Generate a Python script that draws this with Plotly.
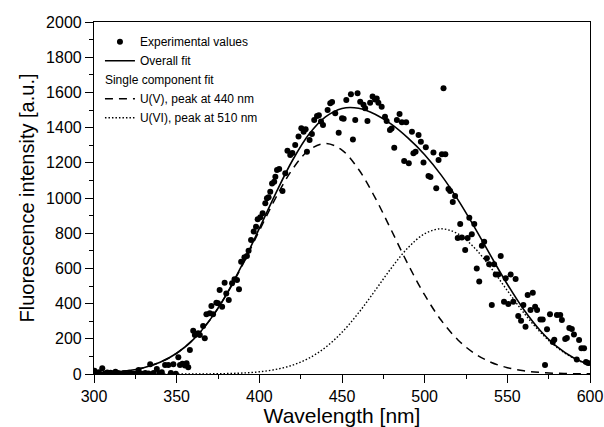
import plotly.graph_objects as go

# Experimental values (wavelength nm, intensity a.u.)
exp_wl = [300.3, 301.5, 303, 305, 306.5, 308, 310, 311.5, 313, 314.5, 316, 318, 320, 322, 324, 326, 327, 329,
          331, 333, 334, 336, 338, 339.5, 341, 343, 345, 346.5, 348, 349.5, 351, 352, 353.5, 355, 356, 357,
          358, 360, 361, 363, 364, 366, 367, 368, 370, 371, 372, 374, 375, 376, 377.5, 379, 380, 381.5, 383.5,
          385, 386.5, 387.7, 389, 391, 392.5, 393.5, 395, 396.6, 398, 399, 400.6, 402, 403.6, 404.6, 405.6,
          406.6, 407.7, 409, 409.7, 410.7, 412, 414, 415.7, 417, 418.7, 420, 421.7, 423.7, 425.4, 426.8, 428,
          428.8, 430.4, 431.8, 433.2, 434.9, 436, 437.3, 438.5, 441.3, 442.9, 444, 445.9, 448, 450, 451, 452.6,
          455.4, 456.6, 458, 459.4, 461, 463, 464, 465.4, 467, 468.5, 470, 471, 472, 474, 476, 477, 479, 480,
          481.6, 483.2, 484.8, 486.2, 487.6, 488.8, 490.4, 492.3, 493.2, 494.5, 496.3, 497.7, 499.3, 500.7,
          502.3, 503.5, 505.3, 507, 508.4, 510.4, 511.4, 512.5, 514.4, 515.4, 517, 518.4, 520, 521.5, 522.5,
          524.5, 526, 527, 528.5, 530, 531.5, 533, 534.6, 536, 537.6, 539, 540.6, 542, 543, 544.5, 546, 548,
          549, 550.6, 552, 553.6, 555, 556.6, 558.3, 559.7, 561, 562.3, 564, 565.4, 566.8, 568, 570, 571.4,
          572.8, 574, 575.8, 577.5, 578.4, 580, 582, 583, 585, 586, 587.5, 589, 590.3, 592, 593.4, 594.8,
          596.4, 597.6, 598.8]
exp_int = [19, 5, 10, 32, 3, 8, 7, 4, 13, 6, 2, 4, 0, 6, 2, 4, 23, 2,
           5, 3, 55, 6, 28, 4, 10, 51, 51, 6, 55, 2, 95, 51, 58, 48, 61, 38,
           136, 246, 222, 231, 222, 273, 203, 339, 345, 386, 339, 405, 402, 477, 382, 519, 458, 420, 515,
           538, 534, 481, 638, 663, 670, 700, 761, 809, 837, 879, 890, 913, 970, 998, 1004,
           1035, 1083, 1093, 1121, 1159, 1165, 1040, 1140, 1269, 1244, 1255, 1301, 1349, 1396, 1377, 1390,
           1263, 1330, 1364, 1443, 1466, 1470, 1434, 1415, 1500, 1538, 1545, 1481, 1371, 1453, 1450, 1557,
           1589, 1333, 1443, 1595, 1547, 1530, 1510, 1437, 1541, 1576, 1560, 1565, 1541, 1519, 1462, 1437, 1386, 1395,
           1286, 1443, 1477, 1430, 1210, 1430, 1197, 1377, 1254, 1263, 1358, 1320, 1201, 1288,
           1125, 1120, 1258, 1055, 1216, 1248, 1623, 1248, 1051, 1040, 977, 1011, 773, 852, 776,
           705, 773, 888, 794, 852, 600, 525, 729, 752, 657, 623, 392, 623, 566, 566, 670, 411,
           544, 398, 566, 411, 540, 330, 303, 392, 269, 449, 364, 462, 382, 364, 310, 310,
           51, 254, 339, 182, 195, 335, 335, 307, 199, 205, 261, 255, 225, 83, 193, 146,
           146, 68, 62]

# Fit curves read at 10 nm steps
fit_wl = [300, 310, 320, 330, 340, 350, 360, 370, 380, 390, 400, 410, 420, 430, 440, 450,
          460, 470, 480, 490, 500, 510, 520, 530, 540, 550, 560, 570, 580, 590, 600]
overall_fit = [4, 9, 18, 36, 67, 118, 195, 306, 451, 628, 827, 1028, 1213, 1362, 1461, 1509,
               1510, 1476, 1418, 1340, 1246, 1130, 992, 836, 671, 510, 365, 246, 155, 92, 51]
uv_fit = [4, 9, 18, 36, 67, 118, 195, 305, 449, 622, 814, 1002, 1163, 1272, 1310, 1272,
          1163, 1002, 814, 622, 449, 305, 195, 118, 67, 36, 18, 9, 4, 2, 1]
uvi_fit = [0, 0, 0, 0, 0, 0.1, 0.3, 0.9, 2.4, 5.6, 12.5, 26, 50, 90, 151, 237,
           347, 474, 604, 718, 797, 825, 797, 718, 604, 474, 347, 237, 151, 90, 50]

x_ticks = [300, 350, 400, 450, 500, 550, 600]
y_ticks = [0, 200, 400, 600, 800, 1000, 1200, 1400, 1600, 1800, 2000]

FONT = "Liberation Sans, Arial, sans-serif"

fig = go.Figure()
fig.add_trace(go.Scatter(x=exp_wl, y=exp_int, mode="markers", name="Experimental values",
                         marker=dict(color="black", size=6), legendgroup="a"))
fig.add_trace(go.Scatter(x=fit_wl, y=overall_fit, mode="lines", name="Overall fit",
                         line=dict(color="black", width=1.6, shape="spline"), legendgroup="b"))
fig.add_trace(go.Scatter(x=fit_wl, y=uv_fit, mode="lines", name="U(V), peak at 440 nm",
                         line=dict(color="black", width=1.5, dash="8px,6px", shape="spline"),
                         legendgroup="c", legendgrouptitle=dict(text="Single component fit",
                                                                font=dict(size=12, color="black", family=FONT))))
fig.add_trace(go.Scatter(x=fit_wl, y=uvi_fit, mode="lines", name="U(VI), peak at 510 nm",
                         line=dict(color="black", width=1.4, dash="1.5px,2px", shape="spline"),
                         legendgroup="c"))

axis_common = dict(showline=True, linecolor="black", linewidth=1.2, mirror=True,
                   ticks="outside", ticklen=8, tickwidth=1, tickcolor="black",
                   showgrid=False, zeroline=False,
                   tickfont=dict(size=16, color="black", family=FONT))

fig.update_xaxes(range=[300, 600], tickvals=x_ticks, ticktext=[str(v) for v in x_ticks],
                 minor=dict(ticks="outside", ticklen=4, dtick=25, tickcolor="black", tickwidth=1),
                 title=dict(text="Wavelength [nm]", font=dict(size=21, color="black", family=FONT), standoff=7),
                 **axis_common)
fig.update_yaxes(range=[0, 2000], tickvals=y_ticks, ticktext=[str(v) for v in y_ticks],
                 minor=dict(ticks="outside", ticklen=4, dtick=100, tickcolor="black", tickwidth=1),
                 title=dict(text="Fluorescence intensity [a.u.]", font=dict(size=20, color="black", family=FONT),
                            standoff=6),
                 **axis_common)

fig.update_layout(
    width=604, height=427,
    margin=dict(l=94, r=14, t=22, b=53, autoexpand=False),
    plot_bgcolor="white", paper_bgcolor="white",
    font=dict(family=FONT, color="black"),
    legend=dict(x=0.012, y=0.985, xanchor="left", yanchor="top", traceorder="grouped",
                tracegroupgap=0, bgcolor="rgba(0,0,0,0)", font=dict(size=12, color="black", family=FONT)),
)

fig.write_html("out.html")
